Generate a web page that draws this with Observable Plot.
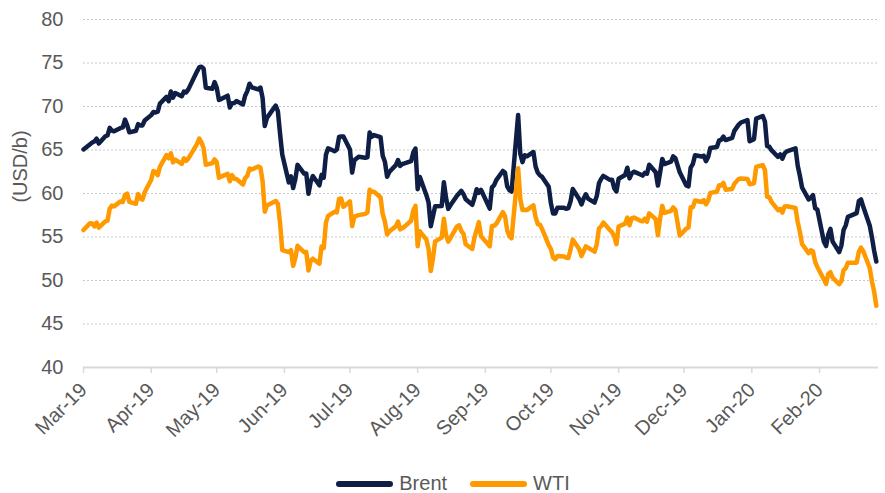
<!DOCTYPE html>
<html>
<head>
<meta charset="utf-8">
<script src="https://cdn.jsdelivr.net/npm/d3@7"></script>
<script src="https://cdn.jsdelivr.net/npm/@observablehq/plot@0.6"></script>
<style>
  html, body { margin: 0; padding: 0; background: #fff; }
  #chart svg { display: block; }
  #legend { display: flex; justify-content: center; align-items: center; height: 27px;
    font: 20px "Liberation Sans", Arial, sans-serif; color: #595959; padding-left: 20px; }
  .item { display: inline-flex; align-items: center; margin: 0 11px; }
  .item span { margin-left: 5px; }
</style>
</head>
<body>
<div id="chart"></div>
<div id="legend"></div>
<script>
// Trading days, Mar 2019 - Feb 2020
const dates = [
  // Mar-19
  "2019-03-01","2019-03-04","2019-03-05","2019-03-06","2019-03-07","2019-03-08","2019-03-11","2019-03-12","2019-03-13","2019-03-14","2019-03-15","2019-03-18","2019-03-19","2019-03-20","2019-03-21","2019-03-22","2019-03-25","2019-03-26","2019-03-27","2019-03-28","2019-03-29",
  // Apr-19
  "2019-04-01","2019-04-02","2019-04-03","2019-04-04","2019-04-05","2019-04-08","2019-04-09","2019-04-10","2019-04-11","2019-04-12","2019-04-15","2019-04-16","2019-04-17","2019-04-18","2019-04-22","2019-04-23","2019-04-24","2019-04-25","2019-04-26","2019-04-29","2019-04-30",
  // May-19
  "2019-05-01","2019-05-02","2019-05-03","2019-05-06","2019-05-07","2019-05-08","2019-05-09","2019-05-10","2019-05-13","2019-05-14","2019-05-15","2019-05-16","2019-05-17","2019-05-20","2019-05-21","2019-05-22","2019-05-23","2019-05-24","2019-05-28","2019-05-29","2019-05-30","2019-05-31",
  // Jun-19
  "2019-06-03","2019-06-04","2019-06-05","2019-06-06","2019-06-07","2019-06-10","2019-06-11","2019-06-12","2019-06-13","2019-06-14","2019-06-17","2019-06-18","2019-06-19","2019-06-20","2019-06-21","2019-06-24","2019-06-25","2019-06-26","2019-06-27","2019-06-28",
  // Jul-19
  "2019-07-01","2019-07-02","2019-07-03","2019-07-05","2019-07-08","2019-07-09","2019-07-10","2019-07-11","2019-07-12","2019-07-15","2019-07-16","2019-07-17","2019-07-18","2019-07-19","2019-07-22","2019-07-23","2019-07-24","2019-07-25","2019-07-26","2019-07-29","2019-07-30","2019-07-31",
  // Aug-19
  "2019-08-01","2019-08-02","2019-08-05","2019-08-06","2019-08-07","2019-08-08","2019-08-09","2019-08-12","2019-08-13","2019-08-14","2019-08-15","2019-08-16","2019-08-19","2019-08-20","2019-08-21","2019-08-22","2019-08-23","2019-08-26","2019-08-27","2019-08-28","2019-08-29","2019-08-30",
  // Sep-19
  "2019-09-03","2019-09-04","2019-09-05","2019-09-06","2019-09-09","2019-09-10","2019-09-11","2019-09-12","2019-09-13","2019-09-16","2019-09-17","2019-09-18","2019-09-19","2019-09-20","2019-09-23","2019-09-24","2019-09-25","2019-09-26","2019-09-27","2019-09-30",
  // Oct-19
  "2019-10-01","2019-10-02","2019-10-03","2019-10-04","2019-10-07","2019-10-08","2019-10-09","2019-10-10","2019-10-11","2019-10-14","2019-10-15","2019-10-16","2019-10-17","2019-10-18","2019-10-21","2019-10-22","2019-10-23","2019-10-24","2019-10-25","2019-10-28","2019-10-29","2019-10-30","2019-10-31",
  // Nov-19
  "2019-11-01","2019-11-04","2019-11-05","2019-11-06","2019-11-07","2019-11-08","2019-11-11","2019-11-12","2019-11-13","2019-11-14","2019-11-15","2019-11-18","2019-11-19","2019-11-20","2019-11-21","2019-11-22","2019-11-25","2019-11-26","2019-11-27","2019-11-29",
  // Dec-19
  "2019-12-02","2019-12-03","2019-12-04","2019-12-05","2019-12-06","2019-12-09","2019-12-10","2019-12-11","2019-12-12","2019-12-13","2019-12-16","2019-12-17","2019-12-18","2019-12-19","2019-12-20","2019-12-23","2019-12-24","2019-12-26","2019-12-27","2019-12-30","2019-12-31",
  // Jan-20
  "2020-01-02","2020-01-03","2020-01-06","2020-01-07","2020-01-08","2020-01-09","2020-01-10","2020-01-13","2020-01-14","2020-01-15","2020-01-16","2020-01-17","2020-01-21","2020-01-22","2020-01-23","2020-01-24","2020-01-27","2020-01-28","2020-01-29","2020-01-30","2020-01-31",
  // Feb-20
  "2020-02-03","2020-02-04","2020-02-05","2020-02-06","2020-02-07","2020-02-10","2020-02-11","2020-02-12","2020-02-13","2020-02-14","2020-02-18","2020-02-19","2020-02-20","2020-02-21","2020-02-24","2020-02-25","2020-02-26","2020-02-27"
];

const brent = [
  65.07,65.67,65.86,65.99,66.30,65.74,66.58,66.67,67.55,67.23,67.16,67.54,67.61,68.50,67.86,67.03,67.21,67.97,67.83,67.82,68.39,
  69.01,69.37,69.31,69.40,70.34,71.10,70.61,71.73,71.02,71.55,71.18,71.72,71.62,71.97,74.04,74.51,74.57,74.35,72.15,72.04,72.80,
  72.18,70.75,70.85,71.24,69.88,70.37,70.39,70.62,70.23,71.24,71.77,72.62,72.21,71.97,72.18,70.99,67.76,68.69,70.11,69.45,66.87,64.49,
  61.28,61.97,60.63,61.67,63.29,62.29,62.29,59.97,61.31,62.01,60.94,62.14,61.82,64.45,65.20,64.86,65.05,66.49,66.55,66.55,
  65.06,62.40,63.82,64.23,64.11,64.16,67.01,66.52,66.72,66.48,64.35,63.66,61.93,62.47,63.26,63.83,63.18,63.39,63.46,63.71,64.72,65.17,
  60.50,61.89,59.81,58.94,56.23,57.38,58.53,58.57,61.30,59.48,58.23,58.64,59.74,60.03,60.30,59.92,59.34,58.70,59.51,60.49,60.08,60.43,
  58.26,60.70,60.95,61.54,62.59,62.38,60.81,60.38,60.22,69.02,64.55,63.60,64.40,64.28,64.77,63.10,62.39,62.08,61.91,60.78,
  58.89,57.69,57.71,58.37,58.35,58.24,58.32,59.10,60.51,59.35,58.74,59.42,59.91,59.42,58.96,59.70,61.17,61.67,62.02,61.57,61.59,60.61,60.23,
  61.69,62.13,62.96,61.74,62.29,62.51,62.18,62.06,62.37,62.28,63.30,62.44,60.91,62.40,63.97,63.39,63.65,64.27,64.06,62.43,
  60.92,60.82,62.98,63.39,64.39,64.25,64.34,63.72,64.20,65.22,65.34,66.10,66.17,66.54,66.14,66.39,67.20,67.92,68.16,68.44,66.00,
  66.25,68.60,68.91,68.27,65.44,65.37,64.98,64.20,64.49,64.00,64.62,64.85,65.20,63.21,62.04,60.69,59.32,59.51,59.81,58.29,58.16,
  54.45,53.96,55.28,55.93,54.47,53.27,54.01,55.79,56.34,57.32,57.75,59.12,59.31,58.50,56.30,54.95,53.43,52.18
];

const wti = [
  55.80,56.59,56.56,56.22,56.66,56.07,56.79,56.87,58.26,58.61,58.52,59.09,59.03,59.83,59.98,59.04,58.82,59.94,59.41,59.30,60.14,
  61.59,62.58,62.46,62.10,63.08,64.40,64.05,64.61,63.58,63.89,63.40,64.05,63.76,64.00,65.70,66.30,65.89,65.21,63.30,63.50,63.91,
  63.60,61.81,61.94,62.25,61.40,62.12,61.70,61.66,61.04,61.78,62.02,62.87,62.76,63.10,62.99,61.42,57.91,58.63,59.14,58.81,56.59,53.50,
  53.25,53.48,51.68,52.59,53.99,53.26,53.27,51.14,52.28,52.51,51.93,53.90,53.76,56.65,57.43,57.90,57.83,59.38,59.43,58.47,
  59.09,56.25,57.34,57.51,57.66,57.83,60.43,60.20,60.21,59.58,57.62,56.78,55.30,55.63,56.22,56.77,55.88,56.02,56.20,56.87,58.05,58.58,
  53.95,55.66,54.69,53.63,51.09,52.54,54.50,54.93,57.10,55.23,54.47,54.87,56.21,56.34,55.68,55.35,54.17,53.64,54.93,55.78,56.71,55.10,
  53.94,56.26,56.30,56.52,57.85,57.40,55.75,55.09,54.85,62.90,59.34,58.11,58.13,58.09,58.64,57.29,56.49,56.41,55.91,54.07,
  53.62,52.64,52.45,52.81,52.75,52.63,52.59,53.55,54.70,53.59,52.81,53.36,53.93,53.78,53.31,54.16,55.97,56.23,56.66,55.81,55.54,55.06,54.18,
  56.20,56.54,57.23,56.35,57.15,57.24,56.86,56.80,57.12,56.77,57.72,57.05,55.21,57.11,58.58,57.77,58.01,58.41,58.11,55.17,
  55.96,56.10,58.43,58.43,59.20,59.02,59.24,58.76,59.18,60.07,60.21,60.94,60.93,61.22,60.44,60.52,61.11,61.68,61.72,61.68,61.06,
  61.18,63.05,63.27,62.70,59.61,59.56,59.04,58.08,58.23,57.81,58.52,58.54,58.34,56.74,55.59,54.19,53.14,53.48,53.33,52.14,51.56,
  50.11,49.61,50.75,50.95,50.32,49.57,49.94,51.17,51.42,52.05,52.05,53.29,53.78,53.38,51.43,49.90,48.73,47.09
];

const seriesNames = ["Brent", "WTI"];
const seriesColors = ["#0e1e45", "#ff9900"];
const yTicks = [40, 45, 50, 55, 60, 65, 70, 75, 80];
const yLabel = "(USD/b)";

const parse = d3.utcParse("%Y-%m-%d");
const n = Math.min(dates.length, brent.length, wti.length);
const data = [];
for (let i = 0; i < n; i++) {
  const d = parse(dates[i]);
  data.push({date: d, value: brent[i], series: "Brent"});
  data.push({date: d, value: wti[i], series: "WTI"});
}

const x0 = new Date(Date.UTC(2019, 2, 1));
const x1 = new Date(Date.UTC(2020, 1, 28));
const monthTicks = d3.utcMonths(x0, x1);

const font = '"Liberation Sans", Arial, sans-serif';

const chart = Plot.plot({
  width: 885,
  height: 470,
  marginLeft: 83,
  marginRight: 7,
  marginTop: 19,
  marginBottom: 103,
  style: {fontFamily: font, fontSize: "20px", color: "#595959", background: "#fff"},
  x: {type: "utc", domain: [x0, x1]},
  y: {domain: [40, 80]},
  color: {domain: seriesNames, range: seriesColors},
  marks: [
    Plot.gridY(yTicks.filter(d => d > 40), {stroke: "#c8c8c8", strokeOpacity: 1, strokeDasharray: "2,2"}),
    Plot.ruleY([40], {stroke: "#d9d9d9", strokeWidth: 2}),
    Plot.axisY(yTicks, {tickSize: 0, tickPadding: 20, fontSize: 20, fill: "#595959", label: null}),
    Plot.axisX(monthTicks, {
      tickFormat: d3.utcFormat("%b-%y"), tickRotate: -45, tickSize: 6, tickPadding: 13,
      stroke: "#d9d9d9", strokeWidth: 1.5, fill: "#595959", fontSize: 20, label: null
    }),
    Plot.lineY(data, {
      x: "date", y: "value", z: "series", stroke: "series",
      strokeWidth: 4.5, strokeLinejoin: "round", strokeLinecap: "round"
    }),
    Plot.text([yLabel], {
      frameAnchor: "left", textAnchor: "middle", rotate: -90,
      dx: -63, dy: -27, fontSize: 20, fill: "#595959"
    })
  ]
});
document.getElementById("chart").appendChild(chart);

const legend = document.getElementById("legend");
seriesNames.forEach((name, i) => {
  const item = document.createElement("div");
  item.className = "item";
  item.innerHTML = `<svg width="59" height="8"><line x1="4" y1="4" x2="55" y2="4" stroke="${seriesColors[i]}" stroke-width="6" stroke-linecap="round"/></svg><span>${name}</span>`;
  legend.appendChild(item);
});
</script>
</body>
</html>
